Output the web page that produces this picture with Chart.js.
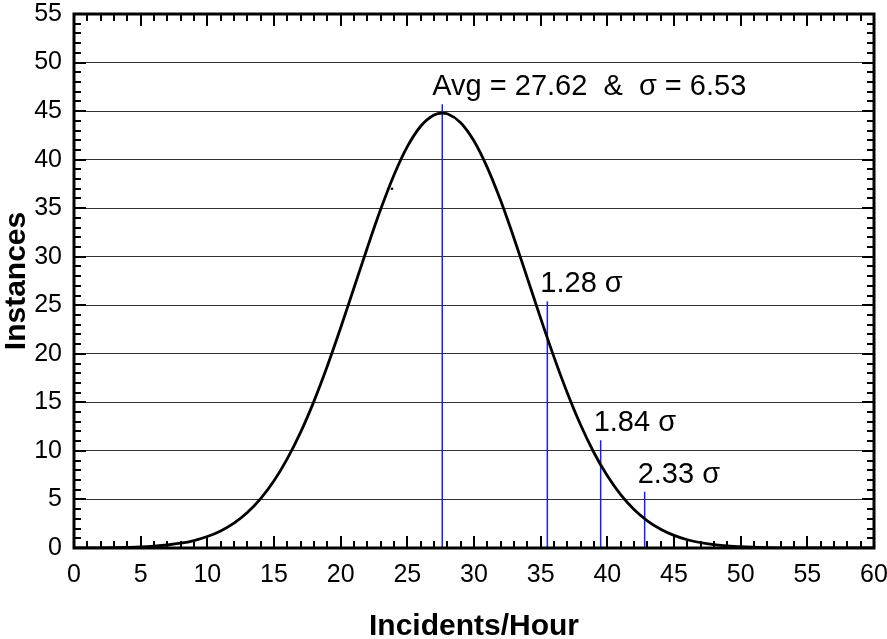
<!DOCTYPE html>
<html>
<head>
<meta charset="utf-8">
<script src="https://cdn.jsdelivr.net/npm/chart.js@4/dist/chart.umd.min.js"></script>
<style>
html,body{margin:0;padding:0;background:#fff;}
canvas{display:block;}
</style>
</head>
<body>
<canvas id="c" width="887" height="639"></canvas>
<script>
// ---- data ----
const curveX = [0, 2, 4, 5, 6, 7, 8, 9, 10, 11, 12, 13, 14, 15, 16, 17, 18, 19, 20, 21, 22, 23, 24, 25, 26, 27, 27.62, 28, 29, 30, 31, 32, 33, 34, 35, 36, 37, 38, 39, 40, 41, 42, 43, 44, 45, 46, 48, 50, 52, 55, 60];
const curveY = [0.01, 0.02, 0.07, 0.11, 0.19, 0.31, 0.49, 0.77, 1.18, 1.76, 2.56, 3.66, 5.09, 6.92, 9.2, 11.93, 15.13, 18.74, 22.68, 26.8, 30.93, 34.88, 38.42, 41.34, 43.44, 44.6, 44.8, 44.72, 43.81, 41.92, 39.18, 35.78, 31.91, 27.8, 23.65, 19.66, 15.97, 12.67, 9.81, 7.43, 5.49, 3.96, 2.8, 1.93, 1.3, 0.85, 0.34, 0.13, 0.04, 0.01, 0];
const markerX = [27.62, 35.5, 39.5, 42.8];
const markerTop = [45.7, 25.4, 11.1, 5.8];
const markerLabels = ['Avg = 27.62  &  \u03c3 = 6.53', '1.28 \u03c3', '1.84 \u03c3', '2.33 \u03c3'];
const strayX = [23.85];
const strayY = [37.0];
const xTickValues = [0, 5, 10, 15, 20, 25, 30, 35, 40, 45, 50, 55, 60];
const yTickValues = [0, 5, 10, 15, 20, 25, 30, 35, 40, 45, 50, 55];
const xTitle = 'Incidents/Hour';
const yTitle = 'Instances';

const FONT = "'Liberation Sans', Arial, Helvetica, sans-serif";
const BLUE = '#1c1cff';

const datasets = [{
  data: curveX.map((x, i) => ({x: x, y: curveY[i]})),
  borderColor: '#000',
  borderWidth: 2.8,
  pointRadius: 0,
  tension: 0.4,
  cubicInterpolationMode: 'monotone',
  fill: false,
  order: 1
}];
markerX.forEach((x, i) => {
  datasets.push({
    data: [{x: x, y: 0}, {x: x, y: markerTop[i]}],
    borderColor: BLUE,
    borderWidth: 1.5,
    pointRadius: 0,
    tension: 0,
    fill: false,
    order: 2
  });
});
datasets.push({
  data: strayX.map((x, i) => ({x: x, y: strayY[i]})),
  showLine: false,
  pointRadius: 1.3,
  pointBackgroundColor: '#000',
  pointBorderWidth: 0,
  order: 0
});

const boxPlugin = {
  id: 'boxPlugin',
  afterDatasetsDraw(chart) {
    const ctx = chart.ctx;
    const a = chart.chartArea;
    const xs = chart.scales.x, ys = chart.scales.y;
    ctx.save();
    ctx.strokeStyle = '#000';
    ctx.lineWidth = 2;
    ctx.beginPath();
    for (let v = xs.min; v <= xs.max; v += 1) {
      const px = Math.round(xs.getPixelForValue(v));
      const len = (v % 5 === 0) ? 12 : 7;
      ctx.moveTo(px, a.bottom); ctx.lineTo(px, a.bottom - len);
      ctx.moveTo(px, a.top); ctx.lineTo(px, a.top + len);
    }
    for (let v = ys.min; v <= ys.max; v += 1) {
      const py = Math.round(ys.getPixelForValue(v));
      const len = (v % 5 === 0) ? 12 : 7;
      ctx.moveTo(a.left, py); ctx.lineTo(a.left + len, py);
      ctx.moveTo(a.right, py); ctx.lineTo(a.right - len, py);
    }
    ctx.stroke();
    ctx.lineWidth = 3;
    ctx.strokeRect(a.left, a.top, a.right - a.left, a.bottom - a.top);
    // marker labels
    ctx.fillStyle = '#000';
    ctx.font = '29px ' + FONT;
    ctx.textAlign = 'left';
    ctx.textBaseline = 'alphabetic';
    markerX.forEach((x, i) => {
      const px = xs.getPixelForValue(x);
      const py = ys.getPixelForValue(markerTop[i]);
      const dx = i === 0 ? -10 : -7;
      ctx.fillText(markerLabels[i], px + dx, py - 9);
    });
    ctx.restore();
  }
};

new Chart(document.getElementById('c'), {
  type: 'line',
  data: {datasets: datasets},
  options: {
    responsive: false,
    animation: false,
    devicePixelRatio: 1,
    layout: {padding: {top: 14, right: 13, left: 0, bottom: 0}},
    plugins: {legend: {display: false}, tooltip: {enabled: false}},
    scales: {
      x: {
        type: 'linear',
        min: 0, max: 60,
        afterFit(s) { s.height = 91; s.paddingLeft = 0; s.paddingRight = 0; },
        afterBuildTicks(s) { s.ticks = xTickValues.map(v => ({value: v})); },
        grid: {display: false, drawTicks: false},
        border: {display: false},
        ticks: {autoSkip: false, maxRotation: 0, padding: 12, color: '#000', font: {family: FONT, size: 25}},
        title: {display: true, text: xTitle, color: '#000', padding: {top: 0, bottom: -3}, font: {family: FONT, size: 30, weight: 'bold', lineHeight: 1}}
      },
      y: {
        type: 'linear',
        min: 0, max: 55,
        afterFit(s) { s.width = 74; s.paddingTop = 0; s.paddingBottom = 0; },
        afterBuildTicks(s) { s.ticks = yTickValues.map(v => ({value: v})); },
        grid: {color: '#333', lineWidth: 1, drawTicks: false},
        border: {display: false},
        ticks: {autoSkip: false, padding: 12, color: '#000', font: {family: FONT, size: 25}},
        title: {display: true, text: yTitle, color: '#000', padding: {top: 2, bottom: 0}, font: {family: FONT, size: 30, weight: 'bold', lineHeight: 1}}
      }
    }
  },
  plugins: [boxPlugin]
});
</script>
</body>
</html>
